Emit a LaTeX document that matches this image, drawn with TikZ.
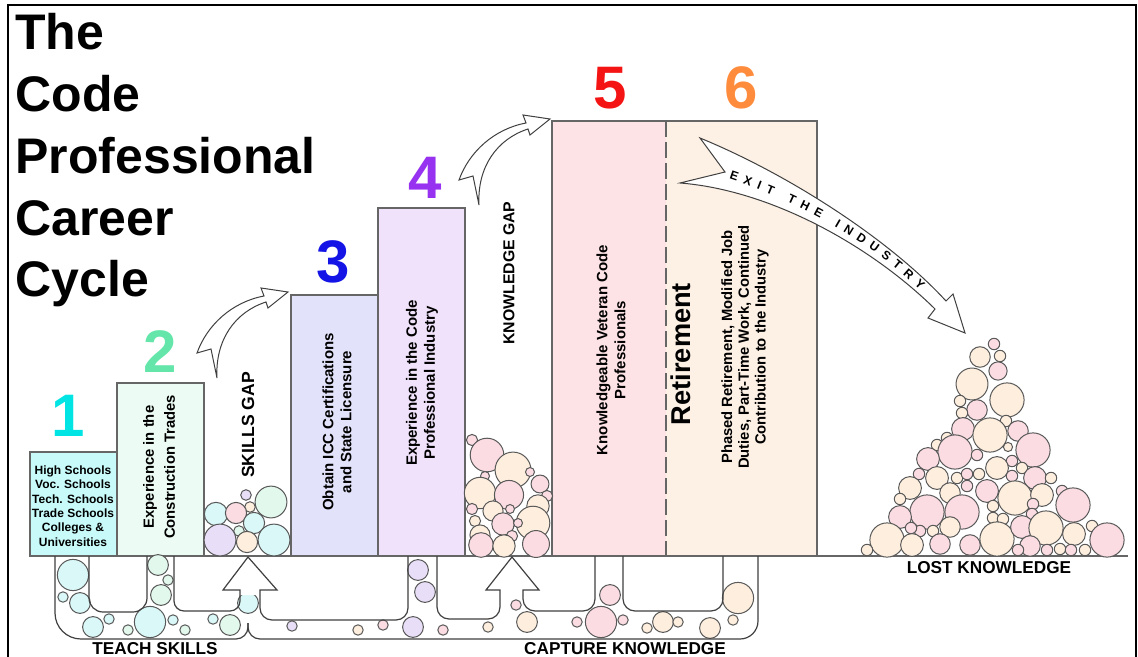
\documentclass[tikz,border=0pt]{standalone}
\usepackage{fontspec}
\setmainfont{Liberation Sans}
\usetikzlibrary{decorations.text}
\definecolor{cy}{RGB}{218,248,248}
\definecolor{mt}{RGB}{226,248,236}
\definecolor{lv}{RGB}{232,222,248}
\definecolor{pk}{RGB}{250,220,226}
\definecolor{pc}{RGB}{253,238,222}
\definecolor{fa}{RGB}{200,250,250}
\definecolor{fb}{RGB}{236,252,244}
\definecolor{fc}{RGB}{226,226,250}
\definecolor{fd}{RGB}{240,226,250}
\definecolor{fe}{RGB}{253,226,230}
\definecolor{ff}{RGB}{253,240,228}
\definecolor{na}{RGB}{0,228,228}
\definecolor{nb}{RGB}{100,230,170}
\definecolor{nc}{RGB}{20,20,230}
\definecolor{nd}{RGB}{150,50,240}
\definecolor{ne}{RGB}{245,20,20}
\definecolor{nf}{RGB}{255,140,60}
\begin{document}
\begin{tikzpicture}[x=0.5pt,y=-0.5pt,
  box/.style={draw=black!60, line width=0.6pt},
  bub/.style={draw=black!65, line width=0.5pt},
  pipe/.style={draw=black!75, line width=0.6pt},
  blockarrow/.style={draw=black!75, fill=white, line width=0.5pt, line join=miter},
  lbl/.style={font=\bfseries\fontsize{7.5}{9}\selectfont, align=center, inner sep=0pt},
  num/.style={font=\bfseries\fontsize{30}{30}\selectfont, inner sep=0pt},
  ttl/.style={font=\bfseries\fontsize{25}{31}\selectfont, anchor=base west, inner sep=0pt},
  caps/.style={font=\bfseries\fontsize{8.6}{10}\selectfont, inner sep=0pt}]
\path[use as bounding box] (0,0) rectangle (1138,657);
\fill[white] (0,0) rectangle (1138,657);
% frame
\draw[line width=1.1pt] (8,660) -- (8,5) -- (1136,5) -- (1136,660);

% title
\node[ttl] (t1) at (15,50) {The};
\node[ttl] (t2) at (15,112) {Code};
\node[ttl] (t3) at (15,174) {Professional};
\node[ttl] (t4) at (15,236) {Career};
\node[ttl] (t5) at (15,297) {Cycle};

% boxes
\draw[box, fill=fa] (30,452) rectangle (117,556);
\draw[box, fill=fb] (117,383) rectangle (204,556);
\draw[box, fill=fc] (291,295) rectangle (378,556);
\draw[box, fill=fd] (378,208) rectangle (465,556);
\fill[fe] (552,121) rectangle (666,556);
\fill[ff] (666,121) rectangle (817,556);
\draw[box] (552,121) rectangle (817,556);
\draw[box, dash pattern=on 8pt off 2.5pt] (666,121) -- (666,556);
\draw[box] (30,556) -- (1128,556);

% numbers
\node[num, text=na] (n1) at (68,416) {1};
\node[num, text=nb] (n2) at (160,352) {2};
\node[num, text=nc] (n3) at (333,262) {3};
\node[num, text=nd] (n4) at (425,178) {4};
\node[num, text=ne] (n5) at (610,88) {5};
\node[num, text=nf] (n6) at (741,88) {6};

% box texts
\node[lbl, font=\bfseries\fontsize{6}{7.2}\selectfont] (b1t) at (73,506) {High Schools\\Voc. Schools\\Tech. Schools\\Trade Schools\\Colleges \&\\Universities};
\node[lbl, rotate=90, font=\bfseries\fontsize{7.4}{10.5}\selectfont] (b2t) at (159,467) {Experience in the\\Construction Trades};
\node[lbl, rotate=90] (b3t) at (337,422) {Obtain ICC Certifications\\and State Licensure};
\node[lbl, rotate=90] (b4t) at (422,383) {Experience in the Code\\Professional Industry};
\node[lbl, rotate=90] (b5t) at (611,350) {Knowledgeable Veteran Code\\Professionals};
\node[lbl, rotate=90, font=\bfseries\fontsize{13.6}{16}\selectfont] (ret) at (681,354) {Retirement};
\node[lbl, rotate=90, font=\bfseries\fontsize{7.4}{8.4}\selectfont] (b6t) at (745,347) {Phased Retirement, Modified Job\\Duties, Part-Time Work, Continued\\Contribution to the Industry};

% gap labels
\node[lbl, rotate=90, font=\bfseries\fontsize{8.8}{10}\selectfont] (sg) at (248,425) {SKILLS GAP};
\node[lbl, rotate=90, font=\bfseries\fontsize{7.9}{9}\selectfont] (kg) at (509,273) {KNOWLEDGE GAP};

% skills gap pile
\foreach \x/\y/\r/\c in {246/495/5/lv, 271/502/15/mt, 250/507/5/pc, 216/514/11/cy, 236/513/10/pk, 254/523/10/cy, 239/531/5/mt, 220/540/15/lv, 247/542/10/pc, 274/540/15/cy}
  {\draw[bub, fill=\c] (\x,\y) circle[radius=\r*0.53pt];}

% knowledge gap pile
\foreach \x/\y/\r/\c in {472/440/5/pk, 487/455/15/pk, 513/470/16/pc, 530/472/4/pk, 485/476/4/pk, 540/484/8/pk, 480/493/14/pc, 509/495/13/pk, 547/496/5/pk, 538/506/10/pc, 472/509/5/pk, 493/511/9/pc, 510/509/4/pk, 533/523/15/pc, 475/521/5/pc, 503/524/10/pk, 518/523/4/pk, 480/535/9/pc, 512/536/5/pk, 481/545/11/pk, 504/546/10/pc, 536/544/12/pk}
  {\draw[bub, fill=\c] (\x,\y) circle[radius=\r*0.56pt];}

% lost knowledge pile
\foreach \x/\y/\r/\c in {994/344/5/pk, 980/357/9/pc, 1000/356/5/pc, 998/371/8/pk, 972/384/14/pc, 1007/400/15/pc, 960/401/5/pc, 977/410/9/pk, 962/413/5/pc, 1006/421/5/pc, 963/429/10/pk, 990/435/15/pc, 1018/431/9/pk, 947/438/5/pc, 937/445/5/pc, 955/452/15/pk, 1033/450/15/pk, 1008/447/4/pc, 977/455/5/pk, 928/459/10/pk, 1012/461/5/pk, 997/468/10/pc, 1022/468/5/pc, 919/474/5/pk, 937/478/10/pc, 957/478/5/pc, 967/474/5/pk, 979/474/5/pc, 1012/476/5/pk, 1035/478/10/pk, 1051/478/5/pc, 910/488/10/pc, 950/493/9/pc, 967/486/5/pk, 987/491/10/pk, 1015/498/15/pc, 1042/495/10/pc, 1062/491/5/pk, 900/499/5/pc, 927/512/15/pk, 962/512/15/pk, 993/506/5/pc, 993/518/5/pc, 1003/519/5/pc, 1033/504/5/pk, 1073/505/15/pk, 1032/514/5/pk, 900/517/10/pk, 950/527/9/pc, 920/531/5/pk, 933/531/5/pc, 911/528/5/pk, 887/540/15/pc, 912/545/10/pc, 940/544/9/pk, 970/545/9/pk, 997/539/15/pc, 1022/527/10/pk, 1046/528/15/pc, 1074/534/10/pc, 1092/526/5/pc, 1107/540/15/pk, 1030/546/9/pk, 1047/550/5/pk, 1060/549/5/pc, 1071/550/5/pk, 1085/550/5/pc, 1018/550/5/pk, 867/550/5/pc}
  {\draw[bub, fill=\c] (\x,\y) circle[radius=\r*0.57pt];}

% pipe bubbles
\foreach \x/\y/\r/\c in {73/575/15/cy, 63/597/5/cy, 80/603/10/cy, 93/627/10/cy, 109/619/5/cy, 128/630/5/mt, 150/622/15/cy, 173/620/5/cy, 185/630/5/mt, 158/565/10/mt, 168/580/5/mt, 161/595/10/mt, 213/619/5/cy, 230/625/10/mt, 248/603/10/cy,
  292/626/5/lv, 358/630/5/pc, 383/625/5/pk, 418/570/10/lv, 425/592/10/lv, 413/627/10/lv, 443/630/5/pk, 488/627/5/pc, 516/605/5/pk, 527/622/10/pc, 577/622/5/pk, 601/622/15/pk, 610/595/10/pk, 623/620/5/pk, 647/628/5/pc, 663/622/10/pc, 678/622/5/pc, 710/628/10/pc, 733/620/5/pc, 738/598/15/pc}
  {\draw[bub, fill=\c] (\x,\y) circle[radius=\r*0.52pt];}

% pipes
\draw[pipe, rounded corners=13pt] (55,556) -- (55,639) -- (150,639);
\draw[pipe, rounded corners=6pt] (150,639) -- (248,639) -- (248,623);
\draw[pipe, rounded corners=6pt] (248,623) -- (248,639) -- (400,639);
\draw[pipe, rounded corners=9pt] (400,639) -- (758,639) -- (758,556);
\draw[pipe, rounded corners=7pt] (89,556) -- (89,612) -- (147,612) -- (147,556);
\draw[pipe, rounded corners=5pt] (174,556) -- (174,611) -- (240,611) -- (240,595);
\draw[pipe, fill=white] (240,595) -- (240,590) -- (223,590) -- (248,557) -- (277,590) -- (260,590) -- (260,595);
\draw[pipe, rounded corners=6pt] (260,595) -- (260,620) -- (408,620) -- (408,556);
\draw[pipe, rounded corners=6pt] (437,556) -- (437,619) -- (500,619) -- (500,595);
\draw[pipe, fill=white] (500,595) -- (500,590) -- (486,590) -- (512,557) -- (539,590) -- (523,590) -- (523,595);
\draw[pipe, rounded corners=6pt] (523,595) -- (523,611) -- (595,611) -- (595,556);
\draw[pipe, rounded corners=6pt] (623,556) -- (623,611) -- (723,611) -- (723,556);

\node[caps] (ts) at (155,649) {TEACH SKILLS};
\node[caps] (ck) at (625,649) {CAPTURE KNOWLEDGE};
\node[caps] (lk) at (989,568) {LOST KNOWLEDGE};

% small curved arrows
\draw[blockarrow] (217,378) .. controls (215,340) and (235,312) .. (266,302) -- (268,308) -- (288,292) -- (261,288) -- (264,296) .. controls (232,302) and (207,325) .. (197,353) -- (211,349) -- cycle;
\begin{scope}[shift={(262,-173)}]
\draw[blockarrow] (217,378) .. controls (215,340) and (235,312) .. (266,302) -- (268,308) -- (288,292) -- (261,288) -- (264,296) .. controls (232,302) and (207,325) .. (197,353) -- (211,349) -- cycle;
\end{scope}

% exit arrow
\draw[blockarrow] (700,138) .. controls (790,175) and (890,240) .. (946,301) -- (953,294) -- (965,333) -- (928,318) -- (935,309) .. controls (870,245) and (770,190) .. (680,183) -- (725,172) -- cycle;
\path[decorate, decoration={text along path, text={|\bfseries\fontsize{6.1}{6.1}\selectfont|E X I T {\ }{\ }T H E {\ }{\ }I N D U S T R Y}, text align={fit to path}}] (729,179) .. controls (800,203) and (870,241) .. (920,290);
\end{tikzpicture}
\end{document}
